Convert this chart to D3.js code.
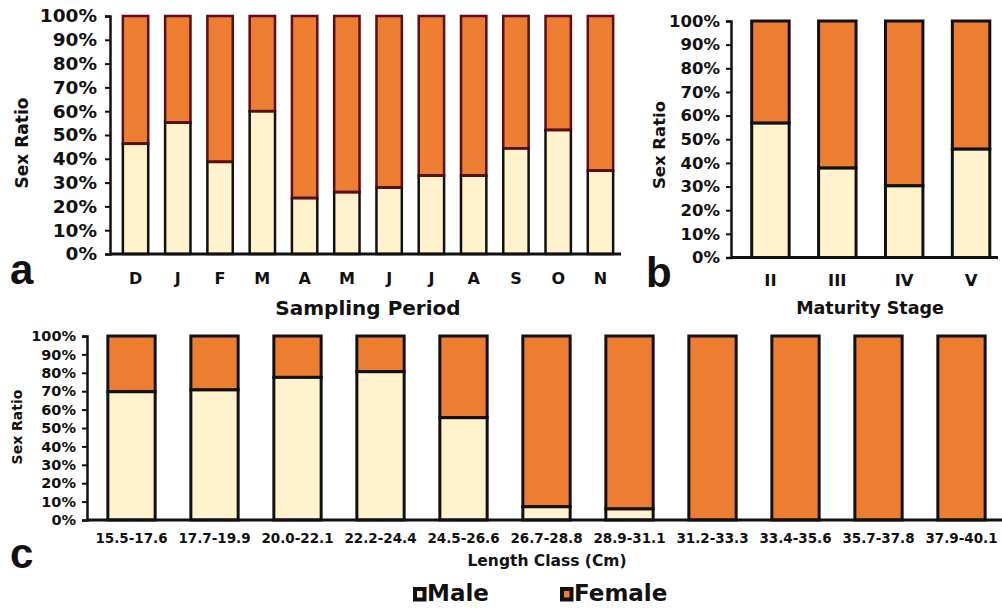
<!DOCTYPE html>
<html>
<head>
<meta charset="utf-8">
<script src="https://cdn.jsdelivr.net/npm/d3@7"></script>
<style>
  body { margin: 0; background: #fff; }
  text { font-family: "DejaVu Sans", Verdana, sans-serif; font-weight: bold; fill: #111; }
</style>
</head>
<body>
<svg id="chart" width="1002" height="608"></svg>
<script>
"use strict"

// panel a - sampling period
var months = ["D", "J", "F", "M", "A", "M", "J", "J", "A", "S", "O", "N"];
var maleByMonth = [46.3, 55.2, 38.7, 60.0, 23.5, 26.0, 27.9, 32.9, 32.9, 44.4, 52.1, 35.0];

// panel b - maturity stage
var stages = ["II", "III", "IV", "V"];
var maleByStage = [56.8, 37.8, 30.3, 45.8];

// panel c - length class
var lengthClasses = ["15.5-17.6", "17.7-19.9", "20.0-22.1", "22.2-24.4", "24.5-26.6",
    "26.7-28.8", "28.9-31.1", "31.2-33.3", "33.4-35.6", "35.7-37.8", "37.9-40.1"];
var maleByLength = [69.7, 70.7, 77.5, 80.6, 55.6, 7.2, 6.0, 0, 0, 0, 0];

var yTicks = [0, 10, 20, 30, 40, 50, 60, 70, 80, 90, 100];
var seriesNames = ["Male", "Female"];

var MALE = "#fff2cc", FEMALE = "#ed7d31";

var svg = d3.select("#chart");

function panel(cfg) {
    var g = svg.append("g");

    var x = d3.scaleBand()
        .domain(d3.range(cfg.cats.length))
        .range([cfg.x0, cfg.x1])
        .paddingInner(cfg.pad)
        .paddingOuter(cfg.pad / 2);

    var y = d3.scaleLinear().domain([0, 100]).range([cfg.y0, cfg.y1]);

    var data = cfg.cats.map(function(c, i) {
        return {i: i, male: cfg.male[i], female: 100 - cfg.male[i]};
    });

    // female part (top)
    g.selectAll("rect.female")
        .data(data).enter()
        .append("rect")
        .attr("class", "female")
        .attr("x", function(d) { return x(d.i); })
        .attr("width", x.bandwidth())
        .attr("y", y(100))
        .attr("height", function(d) { return y(d.male) - y(100); })
        .attr("fill", FEMALE)
        .attr("stroke", cfg.fStroke)
        .attr("stroke-width", cfg.sw);

    // male part (bottom)
    g.selectAll("rect.male")
        .data(data.filter(function(d) { return d.male > 0; })).enter()
        .append("rect")
        .attr("class", "male")
        .attr("x", function(d) { return x(d.i); })
        .attr("width", x.bandwidth())
        .attr("y", function(d) { return y(d.male); })
        .attr("height", function(d) { return y(0) - y(d.male); })
        .attr("fill", MALE)
        .attr("stroke", "#111")
        .attr("stroke-width", cfg.sw);

    if (cfg.fStroke !== "#111") {
        g.selectAll("line.div")
            .data(data.filter(function(d) { return d.male > 0; })).enter()
            .append("line")
            .attr("x1", function(d) { return x(d.i); })
            .attr("x2", function(d) { return x(d.i) + x.bandwidth(); })
            .attr("y1", function(d) { return y(d.male); })
            .attr("y2", function(d) { return y(d.male); })
            .attr("stroke", cfg.fStroke)
            .attr("stroke-width", cfg.sw);
    }

    // y axis
    var yAxis = d3.axisLeft(y)
        .tickValues(yTicks)
        .tickSize(cfg.tick)
        .tickPadding(cfg.tickPad)
        .tickFormat(function(d) { return d + "%"; });
    var ya = g.append("g")
        .attr("transform", "translate(" + cfg.axisX + ",0)")
        .call(yAxis);
    ya.select(".domain").attr("stroke", "#111").attr("stroke-width", 2.5);
    ya.selectAll(".tick line").attr("stroke", "#111").attr("stroke-width", 2);
    ya.selectAll("text").style("font-size", cfg.yFont + "px").style("font-family", "DejaVu Sans").style("font-weight", "bold").attr("fill", "#111");

    // baseline
    g.append("line")
        .attr("x1", cfg.axisX).attr("x2", cfg.axisEnd)
        .attr("y1", y(0)).attr("y2", y(0))
        .attr("stroke", "#111").attr("stroke-width", 3);

    // category labels
    g.selectAll("text.cat")
        .data(cfg.cats).enter()
        .append("text")
        .attr("class", "cat")
        .attr("x", function(d, i) { return x(i) + x.bandwidth() / 2; })
        .attr("y", cfg.catY)
        .attr("text-anchor", "middle")
        .style("font-size", cfg.catFont + "px")
        .text(function(d) { return d; });

    // axis titles
    g.append("text")
        .attr("x", cfg.titleX).attr("y", cfg.titleY)
        .attr("text-anchor", "middle")
        .style("font-size", cfg.titleFont + "px")
        .text(cfg.title);

    g.append("text")
        .attr("transform", "translate(" + cfg.ylabX + "," + cfg.ylabY + ") rotate(-90)")
        .attr("text-anchor", "middle")
        .style("font-size", cfg.ylabFont + "px")
        .text("Sex Ratio");

    g.append("text")
        .attr("x", cfg.letterX).attr("y", cfg.letterY)
        .style("font-size", "42px")
        .style("font-family", "Liberation Sans, Arial")
        .text(cfg.letter);
}

panel({
    cats: months, male: maleByMonth,
    x0: 114.4, x1: 621.6, pad: 0.4, y0: 254, y1: 16,
    axisX: 110, axisEnd: 621, tick: 5, tickPad: 8, yFont: 18.5,
    fStroke: "#5e0d16", sw: 2.5,
    catY: 284, catFont: 16,
    title: "Sampling Period", titleX: 368, titleY: 315, titleFont: 20,
    ylabX: 28, ylabY: 143, ylabFont: 17,
    letter: "a", letterX: 10, letterY: 284
});

panel({
    cats: stages, male: maleByStage,
    x0: 737, x1: 1004.5, pad: 0.44, y0: 257.5, y1: 21,
    axisX: 731, axisEnd: 998, tick: 5, tickPad: 6, yFont: 16.5,
    fStroke: "#111", sw: 3,
    catY: 286, catFont: 16.5,
    title: "Maturity Stage", titleX: 870, titleY: 314, titleFont: 17.5,
    ylabX: 665, ylabY: 145, ylabFont: 16.5,
    letter: "b", letterX: 646, letterY: 287
});

panel({
    cats: lengthClasses, male: maleByLength,
    x0: 90, x1: 1003, pad: 0.43, y0: 520, y1: 336,
    axisX: 87, axisEnd: 1002, tick: 5, tickPad: 6, yFont: 14.5,
    fStroke: "#111", sw: 3,
    catY: 543, catFont: 13.5,
    title: "Length Class (Cm)", titleX: 547, titleY: 566, titleFont: 15.5,
    ylabX: 22, ylabY: 427, ylabFont: 14,
    letter: "c", letterX: 10, letterY: 568
});

// legend
var legend = svg.append("g")
    .attr("class", "legend");

var legendItems = [
    {name: seriesNames[0], color: MALE, x: 413},
    {name: seriesNames[1], color: FEMALE, x: 560}
];

legend.selectAll("rect")
    .data(legendItems).enter()
    .append("rect")
    .attr("x", function(d) { return d.x + 2; })
    .attr("y", 589)
    .attr("width", 9.5)
    .attr("height", 10.5)
    .attr("fill", function(d) { return d.color; })
    .attr("stroke", "#111")
    .attr("stroke-width", 4);

legend.selectAll("text")
    .data(legendItems).enter()
    .append("text")
    .attr("x", function(d) { return d.x + 14; })
    .attr("y", 601)
    .style("font-size", "23px")
    .text(function(d) { return d.name; });
</script>
</body>
</html>
